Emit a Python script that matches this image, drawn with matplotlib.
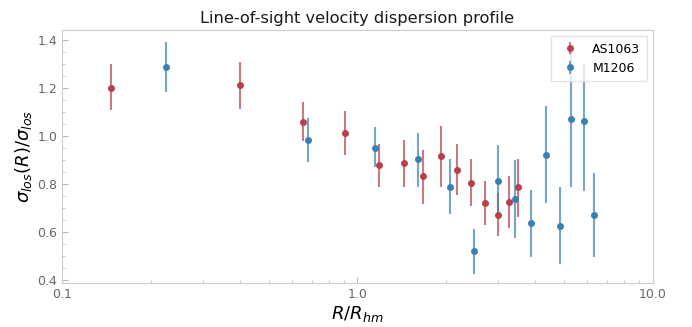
import matplotlib.pyplot as plt
import matplotlib.ticker as mticker
import numpy as np

# AS1063 (red)
r_as = [0.147, 0.40, 0.656, 0.91, 1.18, 1.44, 1.67, 1.92, 2.17, 2.42, 2.70, 3.00, 3.25, 3.50]
s_as = [1.202, 1.214, 1.057, 1.012, 0.880, 0.887, 0.832, 0.917, 0.860, 0.806, 0.721, 0.672, 0.726, 0.788]
lo_as = [1.11, 1.114, 0.979, 0.922, 0.790, 0.790, 0.717, 0.790, 0.756, 0.707, 0.630, 0.584, 0.616, 0.662]
hi_as = [1.30, 1.311, 1.141, 1.103, 0.968, 0.982, 0.943, 1.043, 0.968, 0.905, 0.813, 0.764, 0.832, 0.905]

# M1206 (blue)
r_m = [0.225, 0.68, 1.15, 1.60, 2.06, 2.48, 3.00, 3.40, 3.87, 4.36, 4.85, 5.30, 5.82, 6.30]
s_m = [1.287, 0.984, 0.951, 0.904, 0.786, 0.521, 0.813, 0.737, 0.637, 0.923, 0.627, 1.072, 1.065, 0.672]
lo_m = [1.184, 0.891, 0.870, 0.790, 0.675, 0.426, 0.661, 0.574, 0.496, 0.723, 0.466, 0.786, 0.770, 0.496]
hi_m = [1.393, 1.077, 1.037, 1.015, 0.903, 0.613, 0.961, 0.901, 0.775, 1.124, 0.786, 1.350, 1.300, 0.845]

red = '#b8404c'
blue = '#3a80b4'

fig = plt.figure(figsize=(6.92, 3.27), dpi=100)
ax = fig.add_axes([0.0896, 0.1346, 0.854, 0.7734])

for r, s, lo, hi, c, lab in [(r_as, s_as, lo_as, hi_as, red, 'AS1063'),
                             (r_m, s_m, lo_m, hi_m, blue, 'M1206')]:
    s = np.array(s)
    yerr = [s - np.array(lo), np.array(hi) - s]
    eb = ax.errorbar(r, s, yerr=yerr, fmt='o', color=c, ms=4, elinewidth=1.5,
                     capsize=0, label=lab)
    for line in eb[2]:
        line.set_alpha(0.7)

ax.set_xscale('log')
ax.set_xlim(0.1, 10)
ax.set_ylim(0.388, 1.442)
ax.xaxis.set_major_formatter(mticker.FuncFormatter(lambda v, p: f'{v:.1f}'))
ax.yaxis.set_major_locator(mticker.MultipleLocator(0.2))
ax.yaxis.set_minor_locator(mticker.MultipleLocator(0.05))
ax.tick_params(which='both', direction='in', colors='#bbbbbb', labelcolor='#666666',
               labelsize=9)
ax.tick_params(which='major', length=4)
ax.tick_params(which='minor', length=2)
for sp in ax.spines.values():
    sp.set_color('#cccccc')

ax.set_title('Line-of-sight velocity dispersion profile', fontsize=11.7, color='#1a1a1a', pad=5)
ax.set_xlabel(r'$R/R_{hm}$', fontsize=13, labelpad=2)
ax.set_ylabel(r'$\sigma_{los}(R)/\sigma_{los}$', fontsize=13, labelpad=2)

leg = ax.legend(loc='upper right', fontsize=9, handletextpad=0.8, borderpad=0.5,
                fancybox=False)
leg.get_frame().set_edgecolor('#dddddd')

fig.savefig('out.png', dpi=100)
